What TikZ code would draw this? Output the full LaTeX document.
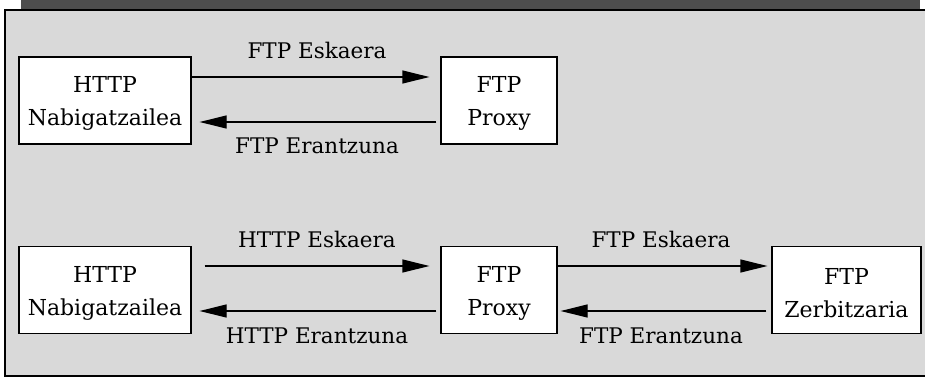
\documentclass[tikz,border=0pt]{standalone}
\usepackage{fontspec}
\setmainfont{DejaVu Serif}
\usetikzlibrary{arrows.meta}
\definecolor{bandgray}{HTML}{4D4D4D}
\definecolor{panelgray}{HTML}{D9D9D9}
\newcommand{\topstrut}{\rule{0pt}{22pt}}
\begin{document}
\begin{tikzpicture}[x=1pt,y=-1pt,
  box/.style={draw=black, fill=white, line width=1.2pt, minimum height=87pt,
    inner sep=0pt, align=center, font=\fontsize{22}{33}\selectfont},
  lbl/.style={font=\fontsize{21.5}{24}\selectfont, inner sep=0pt, anchor=base},
  conn/.style={line width=1.2pt, -{Triangle[length=27pt,width=13pt]}}]
\useasboundingbox (0,0) rectangle (925,378);
% background panel
\fill[bandgray] (21,0) rectangle (920,9);
\fill[panelgray] (5,9) rectangle (925,375.5);
\draw[line width=2pt] (925,9.5) -- (5,9.5) -- (5,375.5) -- (925,375.5);
% top row
\node[box, minimum width=172pt] (h1) at (105,100.5) {\topstrut HTTP\\Nabigatzailea};
\node[box, minimum width=116pt] (p1) at (499,100.5) {\topstrut FTP\\Proxy};
\draw[conn] ([yshift=23.5pt]h1.east) -- ([yshift=23.5pt,xshift=-11pt]p1.west);
\draw[conn] ([yshift=-21.5pt,xshift=-4pt]p1.west) -- ([yshift=-21.5pt,xshift=8pt]h1.east);
\node[lbl] (l1) at (317,58) {FTP Eskaera};
\node[lbl] (l2) at (317,153) {FTP Erantzuna};
% bottom row
\node[box, minimum width=172pt] (h2) at (105,290) {\topstrut HTTP\\Nabigatzailea};
\node[box, minimum width=116pt] (p2) at (499,290) {\topstrut FTP\\Proxy};
\node[box, minimum width=149pt] (z2) at (846.5,290) {\topstrut FTP\\Zerbitzaria};
\draw[conn] ([yshift=24pt,xshift=13pt]h2.east) -- ([yshift=24pt,xshift=-11pt]p2.west);
\draw[conn] ([yshift=-21pt,xshift=-4pt]p2.west) -- ([yshift=-21pt,xshift=8pt]h2.east);
\draw[conn] ([yshift=24pt]p2.east) -- ([yshift=24pt,xshift=-4pt]z2.west);
\draw[conn] ([yshift=-21pt,xshift=-5pt]z2.west) -- ([yshift=-21pt,xshift=3pt]p2.east);
\node[lbl] (l3) at (317,247) {HTTP Eskaera};
\node[lbl] (l4) at (317,343) {HTTP Erantzuna};
\node[lbl] (l5) at (661,247) {FTP Eskaera};
\node[lbl] (l6) at (661,343) {FTP Erantzuna};
\end{tikzpicture}
\end{document}
